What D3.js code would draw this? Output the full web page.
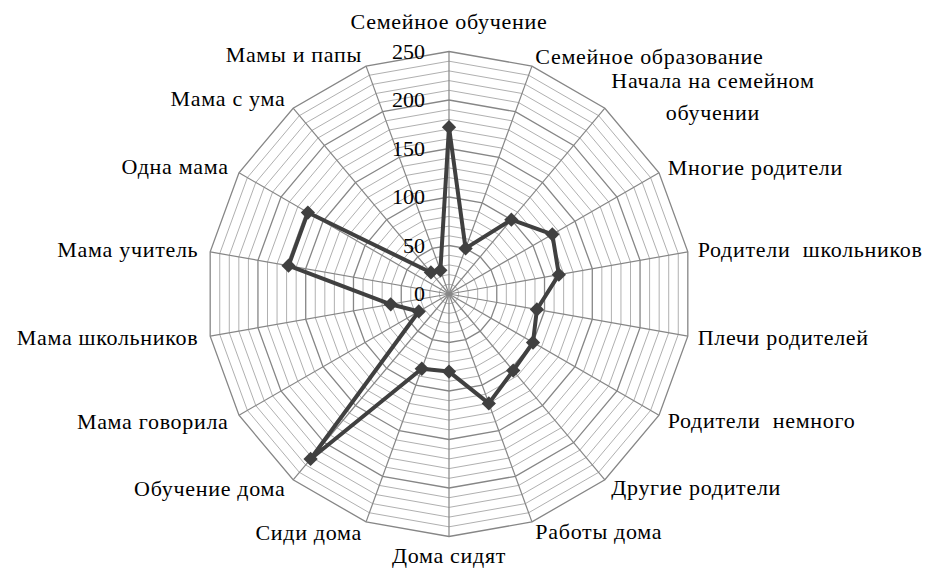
<!DOCTYPE html>
<html>
<head>
<meta charset="utf-8">
<script src="https://cdn.jsdelivr.net/npm/d3@7"></script>
<style>
  body { margin: 0; background: #fff; }
  svg { display: block; }
</style>
</head>
<body>
<div id="chart"></div>
<script>
// categories, clockwise from the top
var categories = [
  "Семейное обучение", "Семейное образование", "Начала на семейном|обучении",
  "Многие родители", "Родители  школьников", "Плечи родителей",
  "Родители  немного", "Другие родители", "Работы дома", "Дома сидят",
  "Сиди дома", "Обучение дома", "Мама говорила", "Мама школьников",
  "Мама учитель", "Одна мама", "Мама с ума", "Мамы и папы"
];

// series values
var values = [172, 50, 100, 123, 115, 92, 100, 103, 120, 80, 82, 222, 36, 61, 168, 168, 29, 26];

// tick labels
var ticks = [0, 50, 100, 150, 200, 250];
var minorStep = 10;

var width = 928, height = 573;
var cx = 449, cy = 294, radius = 242.5;
var font = "'Liberation Serif', serif";
var fontSize = 22;
var spacing = 0.7;

var svg = d3.select("#chart").append("svg")
  .attr("width", width)
  .attr("height", height);

var n = categories.length;
var angle = d3.scaleLinear().domain([0, n]).range([0, 2 * Math.PI]);
var r = d3.scaleLinear().domain([0, 250]).range([0, radius]);

function px(i, v) { return cx + r(v) * Math.sin(angle(i)); }
function py(i, v) { return cy - r(v) * Math.cos(angle(i)); }

function ringPoints(v) {
  return d3.range(n).map(function(i) { return [px(i, v), py(i, v)]; });
}

var g = svg.append("g");

// minor rings
var minor = d3.range(minorStep, 250, minorStep).filter(function(v) { return v % 50 !== 0; });
g.selectAll(".minor")
  .data(minor)
  .enter().append("polygon")
  .attr("points", function(v) { return ringPoints(v).join(" "); })
  .attr("fill", "none")
  .attr("stroke", "#b0b0b0")
  .attr("stroke-width", 1);

// major rings
g.selectAll(".major")
  .data(ticks.slice(1))
  .enter().append("polygon")
  .attr("points", function(v) { return ringPoints(v).join(" "); })
  .attr("fill", "none")
  .attr("stroke", "#868686")
  .attr("stroke-width", 1.3);

// spokes
g.selectAll(".spoke")
  .data(d3.range(n))
  .enter().append("line")
  .attr("x1", cx).attr("y1", cy)
  .attr("x2", function(i) { return px(i, 250); })
  .attr("y2", function(i) { return py(i, 250); })
  .attr("stroke", "#868686")
  .attr("stroke-width", 1.2);

// tick labels
g.selectAll(".tick")
  .data(ticks)
  .enter().append("text")
  .attr("x", cx - 24)
  .attr("y", function(v) { return cy - r(v); })
  .attr("dy", "0.33em")
  .attr("text-anchor", "end")
  .attr("font-family", font)
  .attr("font-size", fontSize)
  .attr("fill", "#000")
  .text(function(v) { return v; });

// series line
var line = d3.line().curve(d3.curveLinearClosed);
g.append("path")
  .attr("d", line(values.map(function(v, i) { return [px(i, v), py(i, v)]; })))
  .attr("fill", "none")
  .attr("stroke", "#404040")
  .attr("stroke-width", 4)
  .attr("stroke-linejoin", "round");

// markers
var diamond = d3.symbol().type(d3.symbolDiamond2).size(130);
g.selectAll(".marker")
  .data(values)
  .enter().append("path")
  .attr("d", diamond)
  .attr("transform", function(v, i) { return "translate(" + px(i, v) + "," + py(i, v) + ")"; })
  .attr("fill", "#404040");

// category labels
categories.forEach(function(c, i) {
  var a = angle(i);
  var s = Math.sin(a), co = Math.cos(a);
  var pad = s > 0.01 ? 10 : (s < -0.01 ? 12 : (co > 0 ? 30 : 19));
  var x = cx + (radius + pad) * s;
  var y = cy - (radius + pad) * co;
  var lines = c.split("|");
  var lh = 32;
  if (lines.length > 1) y -= 4;
  var t = g.append("text")
    .attr("font-family", font)
    .attr("font-size", fontSize)
    .attr("letter-spacing", spacing)
    .attr("fill", "#000")
    .style("white-space", "pre");
  lines.forEach(function(l, k) {
    t.append("tspan")
      .attr("y", y + (k - (lines.length - 1) / 2) * lh)
      .attr("dy", "0.33em")
      .text(l);
  });
  if (lines.length > 1) {
    var w = d3.max(t.selectAll("tspan").nodes(), function(nd) { return nd.getComputedTextLength(); });
    t.attr("text-anchor", "middle").selectAll("tspan").attr("x", x + w / 2);
  } else {
    t.attr("text-anchor", s > 0.01 ? "start" : (s < -0.01 ? "end" : "middle"))
      .selectAll("tspan").attr("x", x);
  }
});
</script>
</body>
</html>
